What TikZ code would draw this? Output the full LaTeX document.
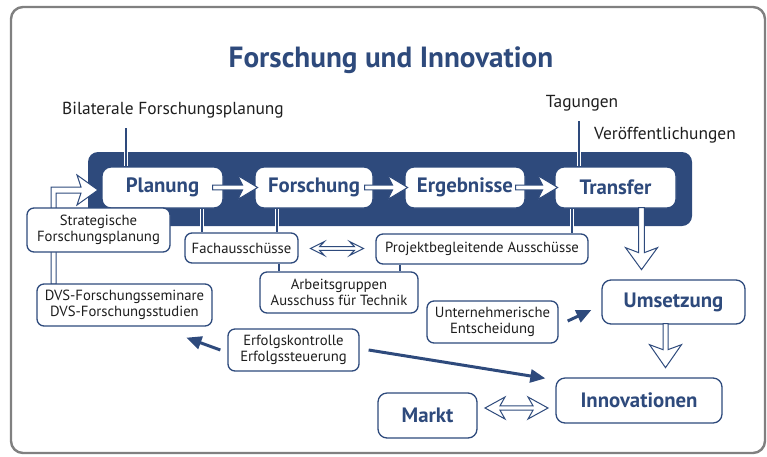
\documentclass[tikz,border=0pt]{standalone}
\usepackage{fontspec}
\setmainfont{PT Sans}
\usetikzlibrary{arrows.meta,calc}
\definecolor{dvsblue}{RGB}{46,74,124}
\definecolor{framegray}{RGB}{128,128,128}
\definecolor{ink}{RGB}{30,30,30}

% hollow block arrow pointing right in local coordinates:
% #1 tail x, #2 tip x, #3 shaft half width, #4 head half width, #5 head length
\newcommand\hollowright[5]{%
  \draw[hollow] (#1,-#3) -- ({#2-#5+5},-#3) -- ({#2-#5},-#4) -- (#2,0)
    -- ({#2-#5},#4) -- ({#2-#5+5},#3) -- (#1,#3) -- cycle;}
% hollow double-headed block arrow:
% #1 left tip, #2 right tip, #3 shaft half width, #4 head half width, #5 head length
\newcommand\hollowboth[5]{%
  \draw[hollow] (#1,0) -- ({#1+#5},-#4) -- ({#1+#5-5},-#3) -- ({#2-#5+5},-#3)
    -- ({#2-#5},-#4) -- (#2,0) -- ({#2-#5},#4) -- ({#2-#5+5},#3)
    -- ({#1+#5-5},#3) -- ({#1+#5},#4) -- cycle;}

\begin{document}
\begin{tikzpicture}[x=1pt,y=-1pt,
  box/.style={draw=dvsblue, line width=1.3pt, fill=white, rounded corners=7pt,
    inner sep=0pt, align=center, text=ink, font=\fontsize{14.7}{16.5}\selectfont},
  mainbox/.style={box, rounded corners=9pt, text=dvsblue,
    font=\fontsize{20.8}{23}\selectfont\bfseries},
  label/.style={inner sep=0pt, text=ink, font=\fontsize{17.4}{19}\selectfont},
  link/.style={draw=dvsblue, line width=1.6pt},
  halo/.style={draw=white, line width=4pt, shorten <=0.8pt, shorten >=0.8pt},
  hollow/.style={draw=dvsblue, fill=white, line width=1pt, line join=miter},
  push/.style={draw=dvsblue, line width=3pt, -{Triangle[length=15pt,width=13pt]}}
]
\useasboundingbox (0,0) rectangle (767,456);

% outer frame
\draw[framegray, line width=2.4pt, rounded corners=12pt] (11,7) rectangle (765,453);

% title and free labels
\node[inner sep=0pt, text=dvsblue, font=\fontsize{29.2}{31}\selectfont\bfseries]
  (title) at (391,60) {Forschung und Innovation};
\node[label] (bilateral) at (173,110) {Bilaterale Forschungsplanung};
\node[label] (tagungen) at (582,103) {Tagungen};
\node[label] (veroeff) at (665,135.5) {Veröffentlichungen};

% dark process band
\fill[dvsblue, rounded corners=10pt] (88,152) rectangle (692,226);

% entry arrow from the seminars up into the planning stage
\draw[hollow] (51,284) -- (51,187) -- (81,187) -- (77,175) -- (98,190)
  -- (77,205) -- (81,193) -- (56,193) -- (56,284) -- cycle;

% process stages
\node[mainbox, minimum width=121pt, minimum height=41pt] (planung)    at (162.5,187.5) {Planung};
\node[mainbox, minimum width=118pt, minimum height=41pt] (forschung)  at (314,187.5)   {Forschung};
\node[mainbox, minimum width=120pt, minimum height=41pt] (ergebnisse) at (465,187.5)   {Ergebnisse};
\node[mainbox, minimum width=121pt, minimum height=41pt] (transfer)   at (615.5,187.5) {Transfer};

% committees and instruments
\node[box, minimum width=143pt, minimum height=44pt] (strat)   at (98.5,230)  {Strategische\\Forschungsplanung};
\node[box, minimum width=175pt, minimum height=42pt] (dvs)     at (124.5,305) {DVS-Forschungsseminare\\DVS-Forschungsstudien};
\node[box, minimum width=113pt, minimum height=30pt] (fach)    at (241.5,248) {Fachausschüsse};
\node[box, minimum width=212pt, minimum height=30pt] (projekt) at (482,249)   {Projektbegleitende Ausschüsse};
\node[box, minimum width=158pt, minimum height=41pt] (arbeit)  at (339,292.5) {Arbeitsgruppen\\Ausschuss für Technik};
\node[box, minimum width=131pt, minimum height=42pt] (erfolg)  at (293.5,350) {Erfolgskontrolle\\Erfolgssteuerung};
\node[box, minimum width=131pt, minimum height=42pt] (untern)  at (492.5,322) {Unternehmerische\\Entscheidung};

% results side
\node[mainbox, minimum width=143pt, minimum height=44pt] (umsetz) at (673.5,302)   {Umsetzung};
\node[mainbox, minimum width=166pt, minimum height=45pt] (innov)  at (639,400.5)   {Innovationen};
\node[mainbox, minimum width=99pt,  minimum height=45pt] (markt)  at (427.5,415.5) {Markt};

% x positions of the vertical links
\coordinate (xbil) at (126,0);
\coordinate (xtag) at (579,0);
\coordinate (xpf)  at (202,0);
\coordinate (xff)  at (277,0);
\coordinate (xtp)  at (572,0);
\coordinate (xfa)  at (279,0);
\coordinate (xpa)  at (400,0);

% links from the labels down to the stages (light edge across the band)
\draw[halo] (xbil |- planung.north) -- ++(0,-15);
\draw[link] (xbil |- planung.north) -- ++(0,-38);
\draw[halo] (xtag |- transfer.north) -- ++(0,-15);
\draw[link] (xtag |- transfer.north) -- ++(0,-45);

% links from the stages down to the committees
\draw[halo] (xpf |- planung.south) -- (xpf |- fach.north);
\draw[link] (xpf |- planung.south) -- (xpf |- fach.north);
\draw[halo] (xff |- forschung.south) -- (xff |- fach.north);
\draw[link] (xff |- forschung.south) -- (xff |- fach.north);
\draw[halo] (xtp |- transfer.south) -- (xtp |- projekt.north);
\draw[link] (xtp |- transfer.south) -- (xtp |- projekt.north);
\draw[link] (xfa |- fach.south) -- (xfa |- arbeit.north);
\draw[link] (xpa |- projekt.south) -- (xpa |- arbeit.north);

% block arrows along the band
\begin{scope}[shift={(planung.east)}]   \hollowright{-11}{34}{2.3}{12}{20} \end{scope}
\begin{scope}[shift={(forschung.east)}] \hollowright{-9}{34}{2.3}{12}{20} \end{scope}
\begin{scope}[shift={(ergebnisse.east)}]\hollowright{-10}{32}{2.3}{12}{20} \end{scope}

% block arrows down the results side
\coordinate (xtu) at (641.5,0);
\coordinate (xui) at (665.5,0);
\begin{scope}[shift={(xtu |- transfer.south)}, rotate=-90] \hollowright{-1}{61}{2.8}{16}{22} \end{scope}
\begin{scope}[shift={(xui |- umsetz.south)}, rotate=-90]   \hollowright{-1}{43}{2.5}{16}{23} \end{scope}

% exchange arrows
\begin{scope}[shift={($(fach.east)!0.5!(projekt.west)$)}] \hollowboth{-26.5}{26.5}{1.8}{7}{14} \end{scope}
\begin{scope}[shift={($(markt.east)!0.5!(innov.west)$)}]  \hollowboth{-31.5}{31.5}{2.2}{11}{20} \end{scope}

% control arrows
\draw[push] ($(erfolg.west)+(-7,0)$) -- ($(dvs.south)+(62,11)$);
\draw[push] ($(erfolg.east)+(9,0)$) -- ($(innov.north west)+(-10,1)$);
\draw[push] ($(untern.east)+(9,-1)$) -- ($(umsetz.west)+(-10,8)$);
\end{tikzpicture}
\end{document}
